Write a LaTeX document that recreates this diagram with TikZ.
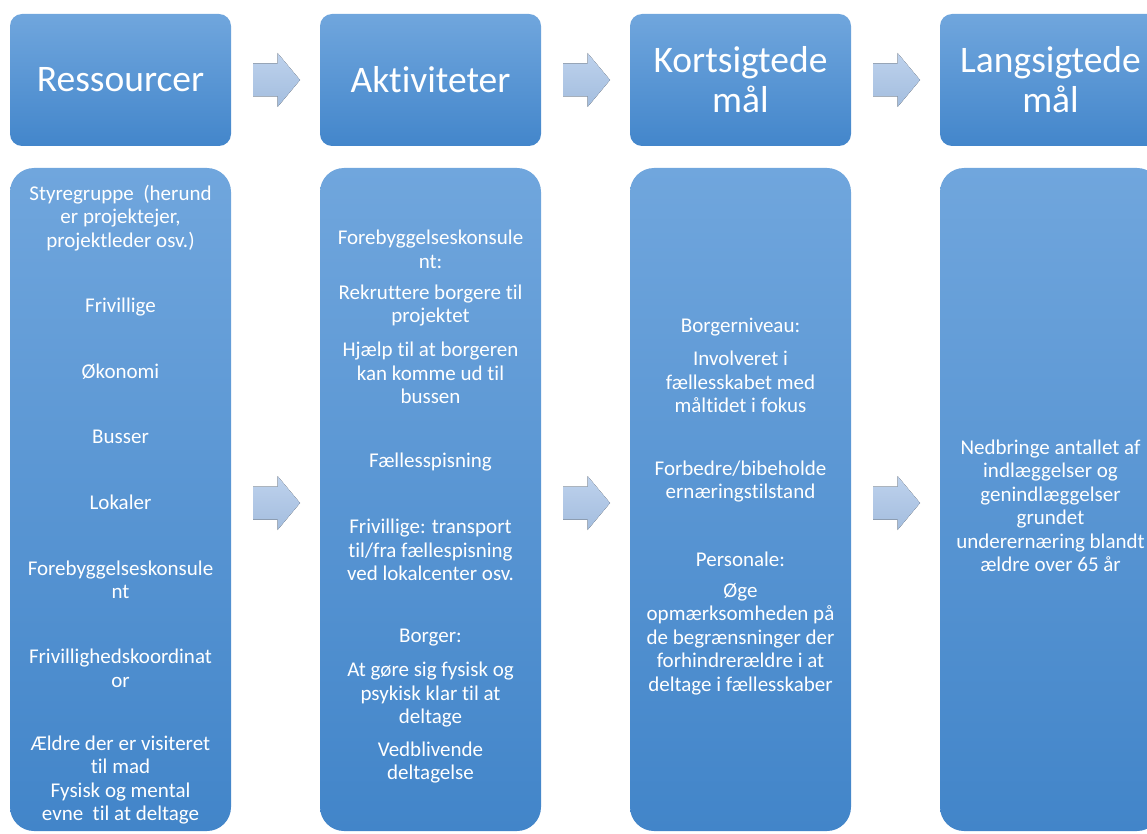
\documentclass[tikz,border=0pt]{standalone}
\usepackage{fontspec}
\setmainfont{Carlito}[RawFeature=-liga]
\definecolor{boxtop}{RGB}{112,166,221}
\definecolor{boxbot}{RGB}{67,134,203}
\definecolor{bodytop}{RGB}{112,166,221}
\definecolor{bodybot}{RGB}{66,133,201}
\definecolor{arrtop}{RGB}{190,210,237}
\definecolor{arrbot}{RGB}{163,189,222}
\tikzset{
  hdrbox/.style={rounded corners=12pt, top color=boxtop, bottom color=boxbot, draw=none},
  bodybox/.style={rounded corners=24pt, top color=bodytop, bottom color=bodybot, draw=none},
  hdrtxt/.style={text=white, font=\fontsize{37.5}{40}\selectfont, align=center, inner sep=0pt},
  txt/.style={text=white, font=\fontsize{21}{23.5}\selectfont, align=center, inner sep=0pt, yshift=-2pt},
  flowarrow/.style={top color=arrtop, bottom color=arrbot, draw=none}
}
\newcommand{\flowarr}[2]{%
  \fill[flowarrow] (#1,#2-16.5) -- (#1+24.5,#2-16.5) -- (#1+24.5,#2-27) -- (#1+47,#2) -- (#1+24.5,#2+27) -- (#1+24.5,#2+16.5) -- (#1,#2+16.5) -- cycle;}
\begin{document}
\begin{tikzpicture}[x=1pt,y=-1pt]
\useasboundingbox (0,0) rectangle (1147,834);
\clip (0,0) rectangle (1147,834);
% header and body boxes
\foreach \x in {10,320,630,940}{
  \path[hdrbox] (\x,14) rectangle (\x+221,146);
  \path[bodybox] (\x,168) rectangle (\x+221,831);
}
\coordinate (c1) at (120.5,80);
\coordinate (c2) at (430.5,80);
\coordinate (c3) at (740.5,80);
\coordinate (c4) at (1050.5,80);
\node[hdrtxt] (t1) at (c1) {Ressourcer};
\node[hdrtxt] (t2) at (c2) {Aktiviteter};
\node[hdrtxt] (t3) at (c3) {Kortsigtede\\mål};
\node[hdrtxt] (t4) at (c4) {Langsigtede\\mål};
% arrows
\flowarr{253}{80}
\flowarr{563}{80}
\flowarr{873}{80}
\flowarr{253}{503}
\flowarr{563}{503}
\flowarr{873}{503}
% column 1
\node[txt] (a1) at (120.5,216) {Styregruppe\ \ (herund\\er projektejer,\\projektleder osv.)};
\node[txt] (a2) at (120.5,305) {Frivillige};
\node[txt] (a3) at (120.5,370) {Økonomi};
\node[txt] (a4) at (120.5,435) {Busser};
\node[txt] (a5) at (120.5,500) {Lokaler};
\node[txt] (a6) at (120.5,578) {Forebyggelseskonsule\\nt};
\node[txt] (a7) at (120.5,666.5) {Frivillighedskoordinat\\or};
\node[txt] (a8) at (120.5,778) {Ældre der er visiteret\\til mad\\Fysisk og mental\\evne\ \ til at deltage};
% column 2
\node[txt] (b1) at (430.5,247.5) {Forebyggelseskonsule\\nt:};
\node[txt] (b2) at (430.5,303.5) {Rekruttere borgere til\\projektet};
\node[txt] (b3) at (430.5,371) {Hjælp til at borgeren\\kan komme ud til\\bussen};
\node[txt] (b4) at (430.5,460) {Fællesspisning};
\node[txt] (b5) at (430.5,548) {Frivillige: transport\\til/fra fællespisning\\ved lokalcenter osv.};
\node[txt] (b6) at (430.5,636) {Borger:};
\node[txt] (b7) at (430.5,693) {At gøre sig fysisk og\\psykisk klar til at\\deltage};
\node[txt] (b8) at (430.5,760.5) {Vedblivende\\deltagelse};
% column 3
\node[txt] (k1) at (740.5,325) {Borgerniveau:};
\node[txt] (k2) at (740.5,380) {Involveret i\\fællesskabet med\\måltidet i fokus};
\node[txt] (k3) at (740.5,479.5) {Forbedre/bibeholde\\ernæringstilstand};
\node[txt] (k4) at (740.5,557) {Personale:};
\node[txt] (k5) at (740.5,637) {Øge\\opmærksomheden på\\de begrænsninger der\\forhindrerældre i at\\deltage i fællesskaber};
% column 4
\node[txt] (l1) at (1050.5,504) {Nedbringe antallet af\\indlæggelser og\\genindlæggelser\\grundet\\underernæring blandt\\ældre over 65 år};
\end{tikzpicture}
\end{document}
